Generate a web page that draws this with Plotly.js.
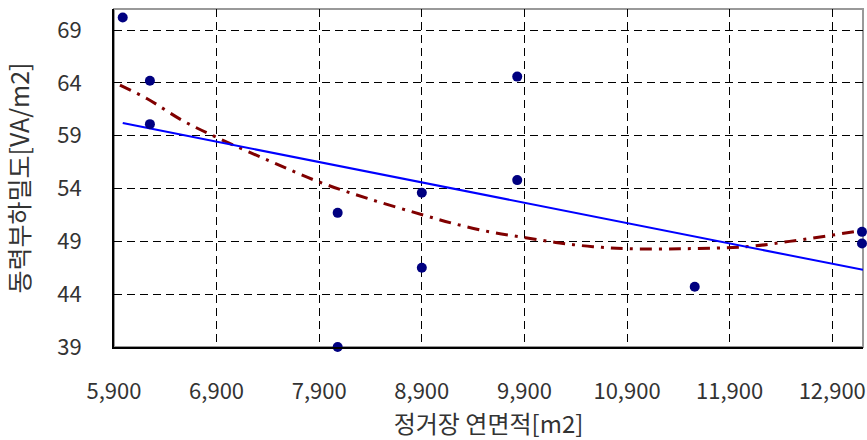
<!DOCTYPE html>
<html>
<head>
<meta charset="utf-8">
<script src="https://cdn.plot.ly/plotly-3.0.1.min.js"></script>
<style>html,body{margin:0;padding:0;background:#fff;}#chart{width:867px;height:440px;}</style>
</head>
<body>
<div id="chart"></div>
<script>
// Observed data points (floor area m2, power load density VA/m2)
const areaX = [5985, 6250, 6250, 8080, 8080, 8900, 8900, 9830, 9830, 11560, 13190, 13190];
const densityY = [70.2, 64.2, 60.1, 51.7, 39.0, 53.6, 46.5, 64.6, 54.8, 44.7, 49.9, 48.8];

// Linear trend line
const linTrendX = [5985, 13200];
const linTrendY = [60.2, 46.3];

// Polynomial trend curve
const polyTrendX = [5958, 6224, 6575, 6900, 7419, 7906, 8393, 8912, 9204, 9562, 9912, 10243, 10568, 10918, 11414, 11868, 12127, 12483, 12905, 13132, 13200];
const polyTrendY = [63.8, 62.5, 60.4, 58.85, 56.6, 54.6, 53.0, 51.5, 50.7, 49.9, 49.35, 48.85, 48.5, 48.3, 48.3, 48.4, 48.55, 49.0, 49.6, 49.95, 50.05];

const xTitle = '정거장 연면적[m2]';
const yTitle = '동력부하밀도[VA/m2]';

const FONT = '"Noto Sans CJK KR", "Noto Sans", sans-serif';

const traces = [
  {
    x: polyTrendX, y: polyTrendY, type: 'scatter', mode: 'lines',
    line: {color: '#800000', width: 3, dash: '12px,7px,3px,7px', shape: 'spline'},
    hoverinfo: 'skip', showlegend: false
  },
  {
    x: linTrendX, y: linTrendY, type: 'scatter', mode: 'lines',
    line: {color: '#0000FF', width: 2},
    hoverinfo: 'skip', showlegend: false
  },
  {
    x: areaX, y: densityY, type: 'scatter', mode: 'markers',
    marker: {color: '#000080', size: 10},
    cliponaxis: false, showlegend: false
  }
];

const layout = {
  width: 867, height: 440,
  margin: {l: 114, r: 4, t: 9, b: 93, pad: 0},
  paper_bgcolor: '#fff', plot_bgcolor: '#fff',
  font: {family: FONT, size: 22, color: '#333'},
  showlegend: false,
  xaxis: {
    range: [5900, 13200], tick0: 5900, dtick: 1000, tickformat: ',d',
    showgrid: true, gridcolor: '#000', gridwidth: 1, griddash: '8px,5px',
    showline: true, linecolor: '#000', linewidth: 2,
    ticks: '', ticklabelstandoff: 24, zeroline: false,
    tickfont: {family: FONT, size: 22, color: '#333'},
    title: {text: xTitle, font: {family: FONT, size: 24, color: '#333'}, standoff: 7},
    automargin: false
  },
  yaxis: {
    range: [39, 71], tick0: 39, dtick: 5,
    showgrid: true, gridcolor: '#000', gridwidth: 1, griddash: '8px,5px',
    showline: true, linecolor: '#000', linewidth: 2,
    ticks: '', ticklabelstandoff: 26, zeroline: false,
    tickfont: {family: FONT, size: 22, color: '#333'},
    title: {text: yTitle, font: {family: FONT, size: 25, color: '#333'}, standoff: 24},
    automargin: false
  },
  shapes: [
    {type: 'rect', xref: 'paper', yref: 'paper', x0: 0, x1: 1, y0: 0, y1: 1,
     line: {color: '#999', width: 2}, layer: 'below'}
  ]
};

Plotly.newPlot('chart', traces, layout, {staticPlot: true, displayModeBar: false});
</script>
</body>
</html>
